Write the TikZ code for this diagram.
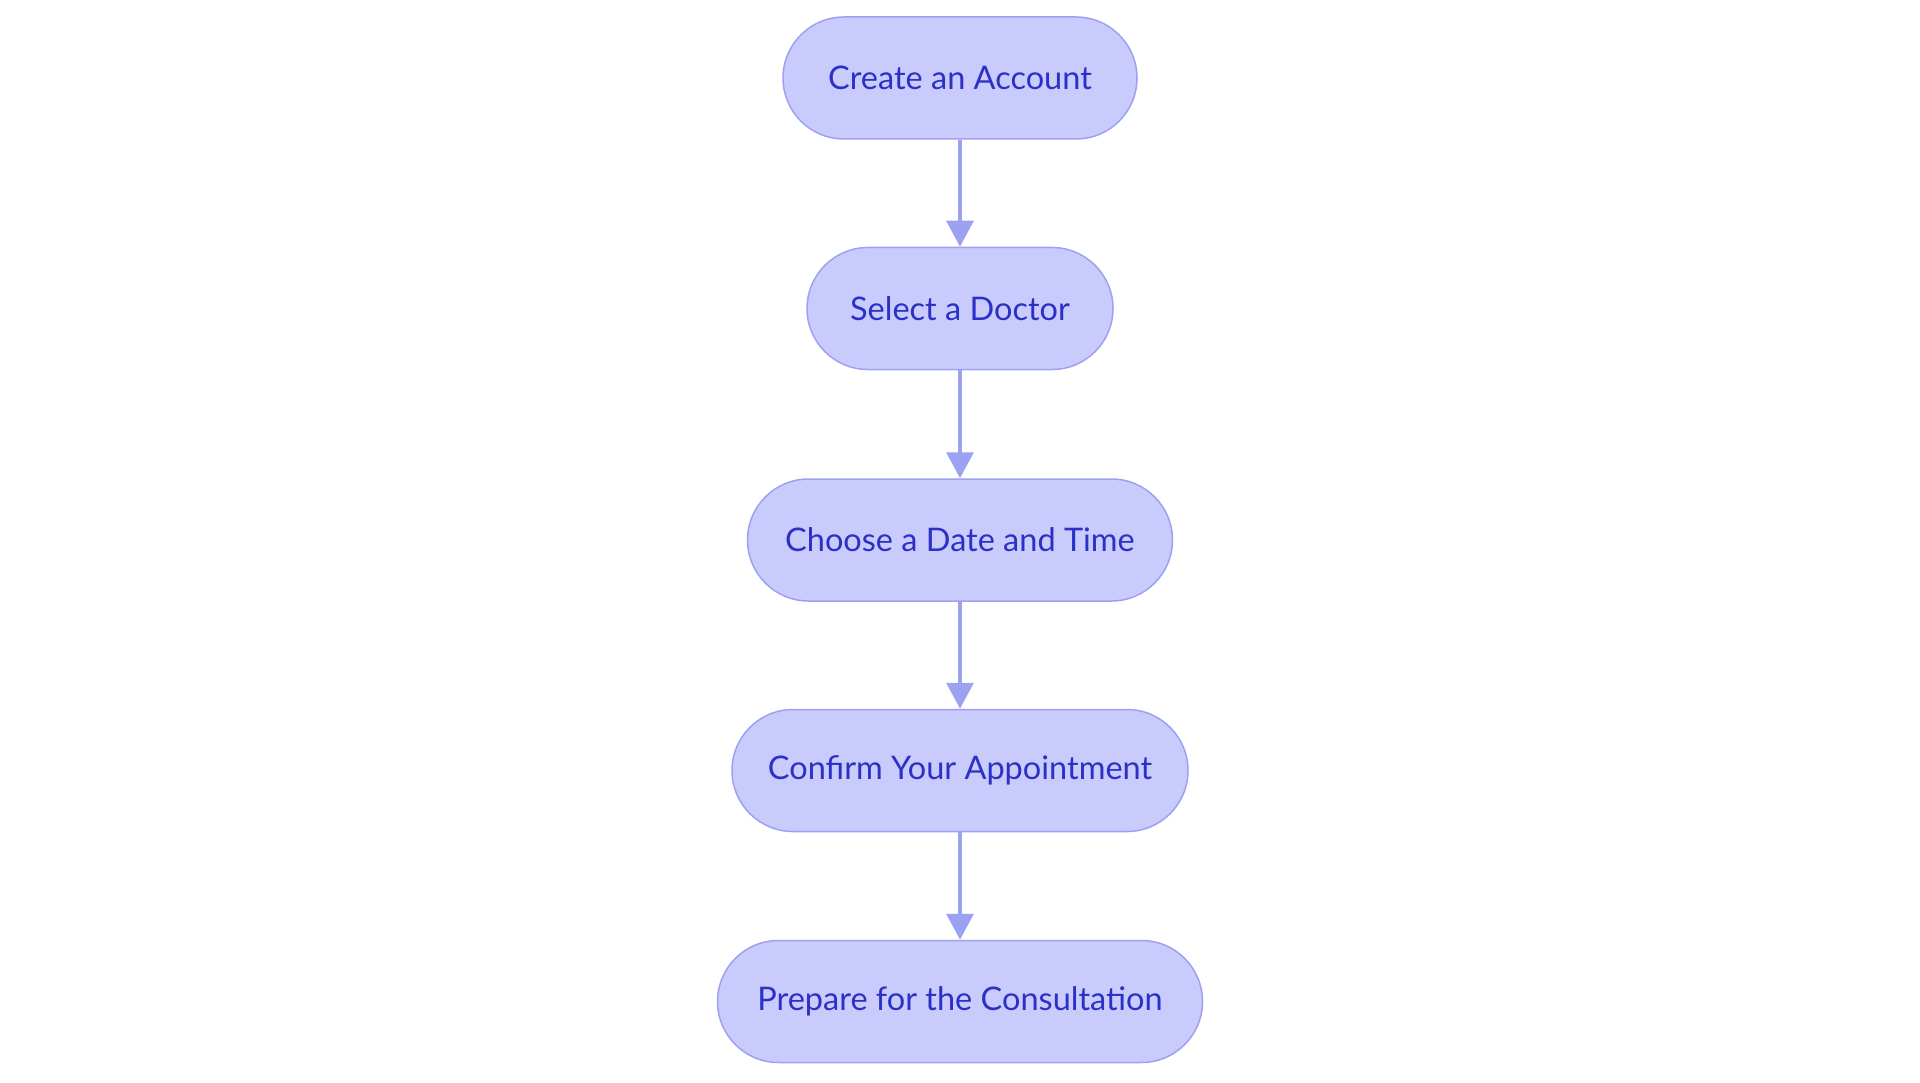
\documentclass[tikz,border=0pt]{standalone}
\usepackage{fontspec}
\setmainfont{Lato}
\usetikzlibrary{arrows.meta}
\definecolor{nodefill}{HTML}{C9CBFC}
\definecolor{nodedraw}{HTML}{9DA1F2}
\definecolor{nodetext}{HTML}{2B31C6}
\definecolor{edgecol}{HTML}{9DA1F2}
\tikzset{
  stepbox/.style={draw=nodedraw, fill=nodefill, line width=1.5pt, rounded corners=61pt,
    minimum height=122pt, inner sep=0pt, text=nodetext,
    font=\fontsize{32.5pt}{39pt}\selectfont},
  flow/.style={draw=edgecol, line width=3.3pt, -{Triangle[width=27pt,length=26pt]}, shorten >=0pt}
}
\begin{document}
\begin{tikzpicture}[x=1pt,y=-1pt]
\useasboundingbox (0,0) rectangle (1920,1083);
\node[stepbox, minimum width=354pt] (a) at (960,78) {Create an Account};
\node[stepbox, minimum width=306pt] (b) at (960,308.5) {Select a Doctor};
\node[stepbox, minimum width=425pt] (c) at (960,540) {Choose a Date and Time};
\node[stepbox, minimum width=456pt] (d) at (960,770.5) {Confirm Your Appointment};
\node[stepbox, minimum width=485pt] (e) at (960,1001.5) {Prepare for the Consultation};
\draw[flow] (a) -- (b);
\draw[flow] (b) -- (c);
\draw[flow] (c) -- (d);
\draw[flow] (d) -- (e);
\end{tikzpicture}
\end{document}
